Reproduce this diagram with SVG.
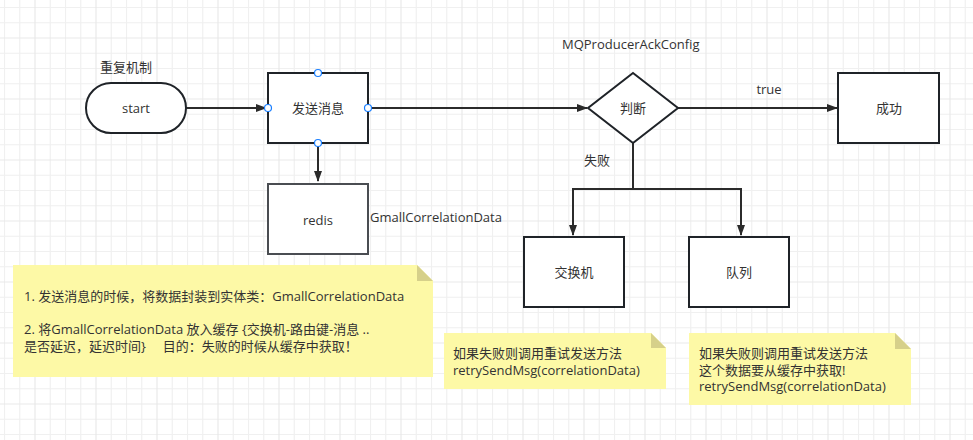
<svg xmlns="http://www.w3.org/2000/svg" width="973" height="440" viewBox="0 0 973 440">
<defs>
<pattern id="grid" x="4" y="7" width="61" height="61" patternUnits="userSpaceOnUse">
<path d="M0.5 0V61M15.75 0V61M46.25 0V61M0 0.5H61M0 15.75H61M0 46.25H61" stroke="#f0f0f0" stroke-width="1.2" fill="none"/>
<path d="M31 0V61M0 31H61" stroke="#e9e9e9" stroke-width="1.2" fill="none"/>
</pattern>
<marker id="arr" markerWidth="12" markerHeight="10" refX="10" refY="4" orient="auto" markerUnits="userSpaceOnUse">
<path d="M0,0 L11,4 L0,8 z" fill="#2b2b2b"/>
</marker>
</defs>
<style>
text{font-family:"Open Sans","Noto Sans CJK SC",sans-serif;font-size:13px;fill:#333;white-space:pre}
.c{text-anchor:middle;dominant-baseline:central}
.box{fill:#fff;stroke:#1f2328;stroke-width:2}
.edge{fill:none;stroke:#2b2b2b;stroke-width:2}
.pt{fill:#fff;stroke:#1a7fff;stroke-width:1.2}
.note{fill:#fdf9a6}
.fold{fill:#d6d08a}
</style>
<rect width="973" height="440" fill="#fff"/>
<rect width="973" height="440" fill="url(#grid)"/>

<g id="edges">
<path class="edge" d="M186 108H266" marker-end="url(#arr)"/>
<path class="edge" d="M318 143V181" marker-end="url(#arr)"/>
<path class="edge" d="M368 108H587" marker-end="url(#arr)"/>
<path class="edge" d="M678 108H837" marker-end="url(#arr)"/>
<path class="edge" d="M633 143V189H573V235" marker-end="url(#arr)"/>
<path class="edge" d="M633 189H741V235" marker-end="url(#arr)"/>
</g>

<g id="label-repeat"><text x="100" y="72">重复机制</text></g>
<g id="start">
<rect x="86" y="83" width="100" height="50" rx="25" ry="25" class="box"/>
<text x="136" y="108" class="c">start</text>
</g>
<g id="send">
<rect x="268" y="73" width="100" height="70" class="box"/>
<text x="318" y="108" class="c">发送消息</text>
<circle cx="318" cy="73" r="3.5" class="pt"/>
<circle cx="268" cy="108" r="3.5" class="pt"/>
<circle cx="368" cy="108" r="3.5" class="pt"/>
<circle cx="318" cy="143" r="3.5" class="pt"/>
</g>
<g id="redis">
<rect x="268" y="184" width="100" height="70" fill="#fff" stroke="#4a4d52" stroke-width="2"/>
<text x="318" y="220" class="c">redis</text>
</g>
<g id="label-gmall"><text x="370" y="222">GmallCorrelationData</text></g>
<g id="label-mq"><text x="562" y="49">MQProducerAckConfig</text></g>
<g id="judge">
<path d="M633 73L678 108L633 143L588 108Z" class="box"/>
<text x="633" y="108" class="c">判断</text>
</g>
<g id="label-true"><text x="769" y="89" class="c">true</text></g>
<g id="success">
<rect x="838" y="73" width="101" height="70" class="box"/>
<text x="889" y="108" class="c">成功</text>
</g>
<g id="label-fail"><text x="597" y="160" class="c">失败</text></g>
<g id="exchange">
<rect x="524" y="237" width="100" height="70" class="box"/>
<text x="574" y="272" class="c">交换机</text>
</g>
<g id="queue">
<rect x="689" y="237" width="100" height="70" class="box"/>
<text x="739" y="272" class="c">队列</text>
</g>

<g id="note1">
<path d="M13 265H417L433 281V377H13Z" class="note"/>
<path d="M417 265L433 281H417Z" class="fold"/>
<text x="24" y="301">1. 发送消息的时候，将数据封装到实体类：GmallCorrelationData</text>
<text x="24" y="334">2. 将GmallCorrelationData 放入缓存 {交换机-路由键-消息 ..</text>
<text x="24" y="351">是否延迟，延迟时间}     目的：失败的时候从缓存中获取！</text>
</g>
<g id="note2">
<path d="M444 333H651L666 348V389H444Z" class="note"/>
<path d="M651 333L666 348H651Z" class="fold"/>
<text x="453" y="358">如果失败则调用重试发送方法</text>
<text x="453" y="375">retrySendMsg(correlationData)</text>
</g>
<g id="note3">
<path d="M689 333H895L911 349V405H689Z" class="note"/>
<path d="M895 333L911 349H895Z" class="fold"/>
<text x="699" y="358">如果失败则调用重试发送方法</text>
<text x="699" y="375">这个数据要从缓存中获取!</text>
<text x="699" y="391">retrySendMsg(correlationData)</text>
</g>
</svg>
